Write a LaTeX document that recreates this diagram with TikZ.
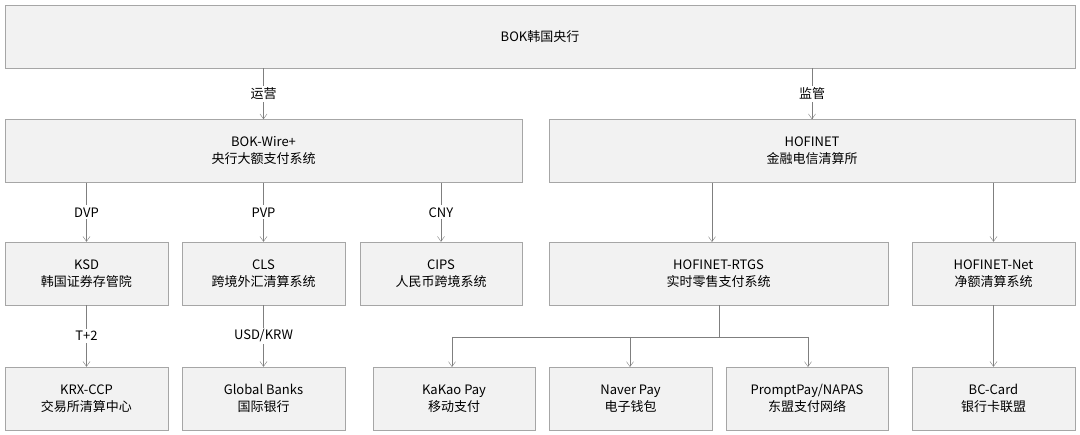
\documentclass[tikz,border=0pt]{standalone}
\usepackage{fontspec}
\setmainfont{Liberation Serif}
\newfontfamily\cjk{Noto Sans CJK SC}
\usetikzlibrary{arrows.meta}
\definecolor{boxfill}{HTML}{F2F2F2}
\definecolor{boxline}{HTML}{A6A6A6}
\definecolor{arrline}{HTML}{7F7F7F}
\tikzset{
  orgbox/.style={draw=boxline,fill=boxfill,minimum height=63pt,align=center,
    font=\cjk\fontsize{13}{17}\selectfont,inner sep=0pt},
  link/.style={draw=arrline,-{Straight Barb[length=5pt,width=7pt]}},
  linklabel/.style={fill=white,inner sep=2pt,font=\cjk\fontsize{13}{15}\selectfont}
}
\begin{document}
\begin{tikzpicture}[x=1pt,y=-1pt]
  \useasboundingbox (0,0) rectangle (1080,435);
  % top level
  \node[orgbox,minimum width=1070pt] (bok) at (540,36.5) {BOK韩国央行};
  % second level
  \node[orgbox,minimum width=517pt] (wire) at (263.5,151) {BOK-Wire+\\央行大额支付系统};
  \node[orgbox,minimum width=526pt] (hof) at (812,151) {HOFINET\\金融电信清算所};
  % third level
  \node[orgbox,minimum width=163pt] (ksd) at (86.5,273.5) {KSD\\韩国证券存管院};
  \node[orgbox,minimum width=163pt] (cls) at (263.5,273.5) {CLS\\跨境外汇清算系统};
  \node[orgbox,minimum width=162pt] (cips) at (441,273.5) {CIPS\\人民币跨境系统};
  \node[orgbox,minimum width=339pt] (rtgs) at (718.5,273.5) {HOFINET-RTGS\\实时零售支付系统};
  \node[orgbox,minimum width=163pt] (net) at (993.5,273.5) {HOFINET-Net\\净额清算系统};
  % fourth level
  \node[orgbox,minimum width=163pt] (krx) at (86.5,398.5) {KRX-CCP\\交易所清算中心};
  \node[orgbox,minimum width=163pt] (gb) at (263.5,398.5) {Global Banks\\国际银行};
  \node[orgbox,minimum width=162pt] (kakao) at (454,398.5) {KaKao Pay\\移动支付};
  \node[orgbox,minimum width=163pt] (naver) at (630.5,398.5) {Naver Pay\\电子钱包};
  \node[orgbox,minimum width=162pt] (prompt) at (807,398.5) {PromptPay/NAPAS\\东盟支付网络};
  \node[orgbox,minimum width=163pt] (bc) at (993.5,398.5) {BC-Card\\银行卡联盟};
  % connectors
  \draw[link] (bok.south -| wire.north) -- node[linklabel] {运营} (wire.north);
  \draw[link] (bok.south -| hof.north) -- node[linklabel] {监管} (hof.north);
  \draw[link] (wire.south -| ksd.north) -- node[linklabel] {DVP} (ksd.north);
  \draw[link] (wire.south -| cls.north) -- node[linklabel] {PVP} (cls.north);
  \draw[link] (wire.south -| cips.north) -- node[linklabel] {CNY} (cips.north);
  \draw[link] (hof.south -| 712,0) -- (712,242);
  \draw[link] (hof.south -| net.north) -- (net.north);
  \draw[link] (ksd.south) -- node[linklabel] {T+2} (krx.north);
  \draw[link] (cls.south) -- node[linklabel] {USD/KRW} (gb.north);
  \coordinate (split) at (719,337);
  \draw[draw=arrline] (rtgs.south -| split) -- (split);
  \draw[draw=arrline] (452,337) -- (808,337);
  \draw[link] (452,337) -- (452,367);
  \draw[link] (630,337) -- (630,367);
  \draw[link] (808,337) -- (808,367);
  \draw[link] (net.south) -- (bc.north);
\end{tikzpicture}
\end{document}
